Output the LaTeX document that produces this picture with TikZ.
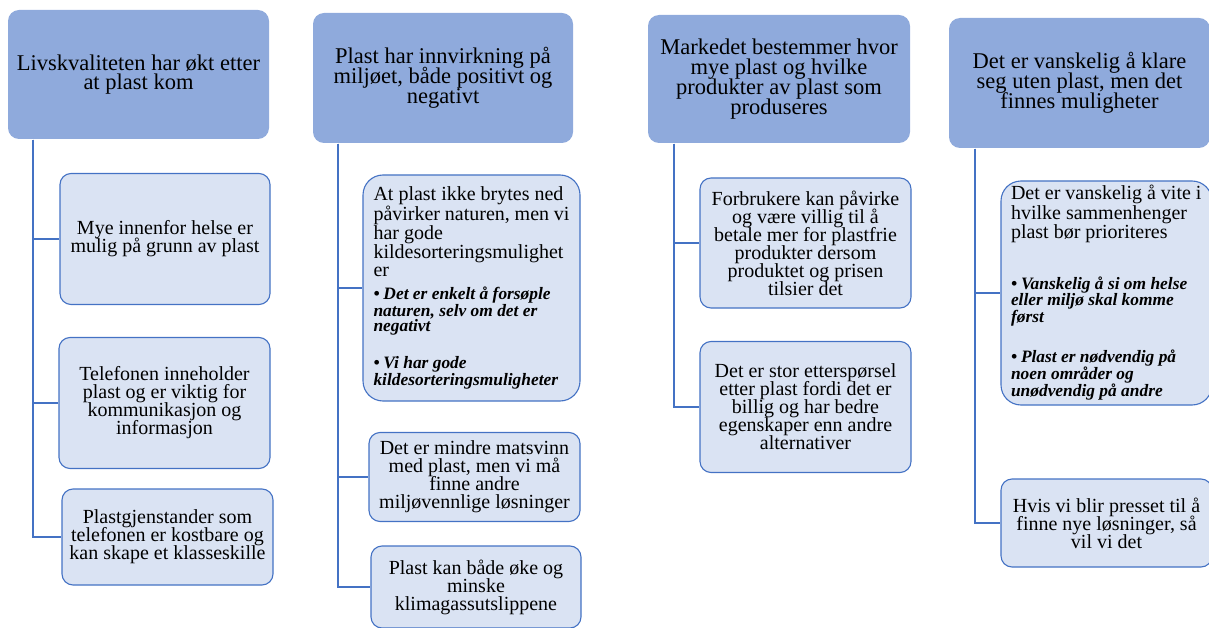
\documentclass[tikz,border=0pt]{standalone}
\usepackage{fontspec}
\setmainfont{Liberation Serif}
\usepackage{xcolor}
\definecolor{headblue}{HTML}{8FAADC}
\definecolor{leafblue}{HTML}{DAE3F3}
\definecolor{lineblue}{HTML}{4472C4}
\newcommand{\bfi}{\fontsize{17.4}{15.2}\selectfont\bfseries\itshape}
\newcommand{\bul}{\hangindent=10pt\hangafter=1\noindent\makebox[10pt][l]{\textbullet}}
\newcommand{\listtext}[2]{\parbox{#1}{\raggedright #2}}
\lineskiplimit=-100pt

\begin{document}
\begin{tikzpicture}[
    x=1pt, y=-1pt,
    line width=1.1pt,
    head/.style={fill=headblue, rounded corners=11pt, align=center, inner sep=0pt,
      font=\fontsize{22.5}{19.8}\selectfont},
    leaf/.style={draw=lineblue, fill=leafblue, rounded corners=11pt, align=center, inner sep=0pt,
      font=\fontsize{20}{18}\selectfont},
    bulletbox/.style={leaf, rounded corners=20pt, align=left},
    link/.style={draw=lineblue, line width=1.6pt}
  ]
    \useasboundingbox (0,0) rectangle (1209,628);
    \clip (0,0) rectangle (1209,628);

    \node[head, minimum width=261pt, minimum height=129pt] (H1) at (138.5,74.5)
      {Livskvaliteten har økt etter\\at plast kom};
    \node[leaf, minimum width=210pt, minimum height=131pt] (A1) at (165,239)
      {Mye innenfor helse er\\mulig på grunn av plast};
    \node[leaf, minimum width=211pt, minimum height=131pt] (A2) at (164.5,403)
      {Telefonen inneholder\\plast og er viktig for\\kommunikasjon og\\informasjon};
    \node[leaf, minimum width=211pt, minimum height=96pt] (A3) at (167.5,537)
      {Plastgjenstander som\\telefonen er kostbare og\\kan skape et klasseskille};

    \node[head, minimum width=260pt, minimum height=130pt] (H2) at (443,78)
      {Plast har innvirkning på\\miljøet, både positivt og\\negativt};
    \node[bulletbox, minimum width=217pt, minimum height=226pt] (B1) at (471.5,288)
      {\listtext{196pt}{At plast ikke brytes ned\\påvirker naturen, men vi\\har gode\\kildesorteringsmulighet\\er\par
       \vspace{8pt}
       {\bfi\bul Det er enkelt å forsøple\\naturen, selv om det er\\negativt\par}
       \vspace{20pt}
       {\bfi\bul Vi har gode\\kildesorteringsmuligheter\par}}};
    \node[leaf, minimum width=211pt, minimum height=89pt] (B2) at (474.5,477)
      {Det er mindre matsvinn\\med plast, men vi må\\finne andre\\miljøvennlige løsninger};
    \node[leaf, minimum width=210pt, minimum height=82pt] (B3) at (476,587)
      {Plast kan både øke og\\minske\\klimagassutslippene};

    \node[head, minimum width=262pt, minimum height=128pt] (H3) at (779,79)
      {Markedet bestemmer hvor\\mye plast og hvilke\\produkter av plast som\\produseres};
    \node[leaf, minimum width=211pt, minimum height=130pt] (C1) at (805.5,243)
      {Forbrukere kan påvirke\\og være villig til å\\betale mer for plastfrie\\produkter dersom\\produktet og prisen\\tilsier det};
    \node[leaf, minimum width=211pt, minimum height=131pt] (C2) at (805.5,407)
      {Det er stor etterspørsel\\etter plast fordi det er\\billig og har bedre\\egenskaper enn andre\\alternativer};

    \node[head, minimum width=261pt, minimum height=130pt] (H4) at (1079.5,83)
      {Det er vanskelig å klare\\seg uten plast, men det\\finnes muligheter};
    \node[bulletbox, minimum width=211pt, minimum height=224pt] (D1) at (1106.5,293)
      {\listtext{191pt}{Det er vanskelig å vite i\\hvilke sammenhenger\\plast bør prioriteres\par
       \vspace{33pt}
       {\bfi\bul Vanskelig å si om helse\\eller miljø skal komme\\først\par}
       \vspace{22pt}
       {\bfi\bul Plast er nødvendig på\\noen områder og\\unødvendig på andre\par}}};
    \node[leaf, minimum width=211pt, minimum height=88pt] (D2) at (1106.5,523)
      {Hvis vi blir presset til å\\finne nye løsninger, så\\vil vi det};

    \coordinate (S1) at (33,0);
    \coordinate (S2) at (338,0);
    \coordinate (S3) at (674,0);
    \coordinate (S4) at (975,0);
    \foreach \h/\s/\kids in {H1/S1/{A1,A2,A3}, H2/S2/{B1,B2,B3}, H3/S3/{C1,C2}, H4/S4/{D1,D2}}
      \foreach \k in \kids
        \draw[link] (\h.south -| \s) |- (\k.west);
  \end{tikzpicture}
\end{document}
